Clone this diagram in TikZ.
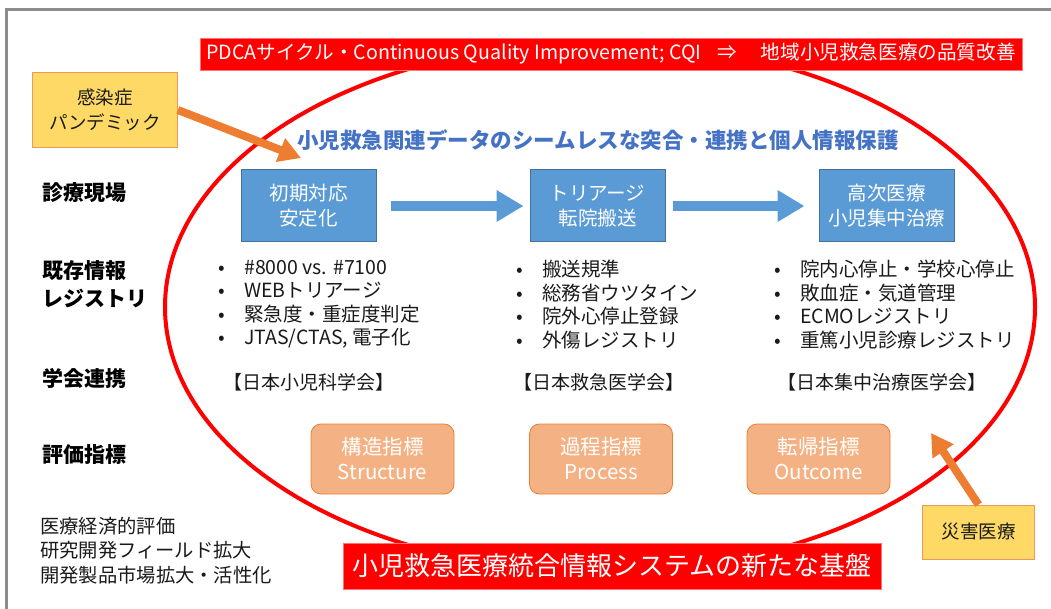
\documentclass[tikz,border=0pt]{standalone}
\usepackage{fontspec}
\setmainfont{Noto Sans CJK JP}
\usetikzlibrary{arrows.meta}
\definecolor{cred}{HTML}{FF0000}
\definecolor{cblue}{HTML}{5B9BD5}
\definecolor{cblueb}{HTML}{41719C}
\definecolor{ctitle}{HTML}{4472C4}
\definecolor{corange}{HTML}{ED7D31}
\definecolor{corfill}{HTML}{F4B183}
\definecolor{cyellow}{HTML}{FFD966}
\definecolor{cframe}{HTML}{8C8C8C}
\definecolor{ctext}{HTML}{1A1A1A}
\tikzset{
  banner/.style={fill=cred, draw=cred!55!white, line width=0.6pt, text=white, inner sep=0pt},
  bluebox/.style={fill=cblue, draw=cblueb, line width=1pt, text=white, minimum width=135pt, minimum height=72pt, align=center, inner sep=0pt, font=\fontsize{19.5}{25}\selectfont},
  orbox/.style={fill=corfill, draw=corange, line width=0.8pt, rounded corners=10pt, text=white, minimum width=143pt, minimum height=70pt, align=center, inner sep=0pt, font=\fontsize{20.5}{25}\selectfont},
  yelbox/.style={fill=cyellow, draw=corange!80, line width=0.8pt, text=ctext, align=center, inner sep=0pt, font=\fontsize{18.5}{25}\selectfont},
  rowlabel/.style={anchor=west, inner sep=0pt, align=left, text=black, font=\fontsize{21}{28}\selectfont\bfseries},
  listtext/.style={anchor=north west, inner sep=0pt, align=left, text=ctext, font=\fontsize{19.5}{23.5}\selectfont},
  society/.style={inner sep=0pt, text=ctext, font=\fontsize{19}{22}\selectfont},
  blockarrow/.style={draw=cblue, line width=10pt, -{Triangle[width=30pt,length=27pt]}},
  orarrow/.style={draw=corange, line width=8pt, -{Triangle[width=24pt,length=22pt]}},
}
\newcommand{\bul}{\makebox[26pt][l]{•}}
\begin{document}
\begin{tikzpicture}[x=1pt,y=-1pt]
\useasboundingbox (0,0) rectangle (1051,609);
\fill[white] (0,0) rectangle (1051,609);
% frame
\draw[cframe, line width=3pt] (6.5,615) -- (6.5,9.5) -- (1060,9.5);
% ellipse
\draw[cred, line width=4pt] (600,307) ellipse [x radius=435, y radius=265];
% banners
\node[banner, minimum width=822pt, minimum height=32pt, font=\fontsize{19.6}{22}\selectfont] (pdca) at (611,54)
  {PDCAサイクル・Continuous Quality Improvement; CQI\hspace{16pt}⇒\hspace{24pt}地域小児救急医療の品質改善};
\node[banner, minimum width=538pt, minimum height=46pt, font=\fontsize{26}{30}\selectfont] (base) at (612,566)
  {小児救急医療統合情報システムの新たな基盤};
% title
\node[inner sep=0pt, text=ctitle, font=\fontsize{21.5}{26}\selectfont\bfseries] (title) at (598,140)
  {小児救急関連データのシームレスな突合・連携と個人情報保護};
% row labels
\node[rowlabel] (r1) at (42,193) {診療現場};
\node[rowlabel] (r2) at (42,284) {既存情報\\レジストリ};
\node[rowlabel] (r3) at (42,378) {学会連携};
\node[rowlabel] (r4) at (42,455) {評価指標};
% blue boxes
\node[bluebox] (b1) at (308.5,206) {初期対応\\安定化};
\node[bluebox] (b2) at (597.5,206) {トリアージ\\転院搬送};
\node[bluebox] (b3) at (886.5,206) {高次医療\\小児集中治療};
\draw[blockarrow, shorten <=14pt, shorten >=6pt] (b1) -- (b2);
\draw[blockarrow, shorten <=7pt, shorten >=14pt] (b2) -- (b3);
% lists
\node[listtext] (l1) at (218,260) {\bul\#8000 vs. \#7100\\\bul WEBトリアージ\\\bul 緊急度・重症度判定\\\bul JTAS/CTAS, 電子化};
\node[listtext] (l2) at (516,260) {\bul 搬送規準\\\bul 総務省ウツタイン\\\bul 院外心停止登録\\\bul 外傷レジストリ};
\node[listtext] (l3) at (774,260) {\bul 院内心停止・学校心停止\\\bul 敗血症・気道管理\\\bul ECMOレジストリ\\\bul 重篤小児診療レジストリ};
% societies
\node[society] (s1) at (309,382) {【日本小児科学会】};
\node[society] (s2) at (599,382) {【日本救急医学会】};
\node[society] (s3) at (882,382) {【日本集中治療医学会】};
% evaluation boxes
\node[orbox] (o1) at (382.5,459) {構造指標\\Structure};
\node[orbox] (o2) at (601,459) {過程指標\\Process};
\node[orbox] (o3) at (818.5,459) {転帰指標\\Outcome};
% bottom-left text
\node[listtext, font=\fontsize{19.3}{24.5}\selectfont] (econ) at (40,517) {医療経済的評価\\研究開発フィールド拡大\\開発製品市場拡大・活性化};
% yellow boxes and orange arrows
\node[yelbox, minimum width=145pt, minimum height=75pt] (y1) at (105,110) {感染症\\パンデミック};
\node[yelbox, minimum width=112pt, minimum height=54pt] (y2) at (978.5,532) {災害医療};
\coordinate (t1) at (301,158);
\coordinate (t2) at (931,433);
\draw[orarrow] (y1.east) -- (t1);
\draw[orarrow] (y2.north) -- (t2);
\end{tikzpicture}
\end{document}
